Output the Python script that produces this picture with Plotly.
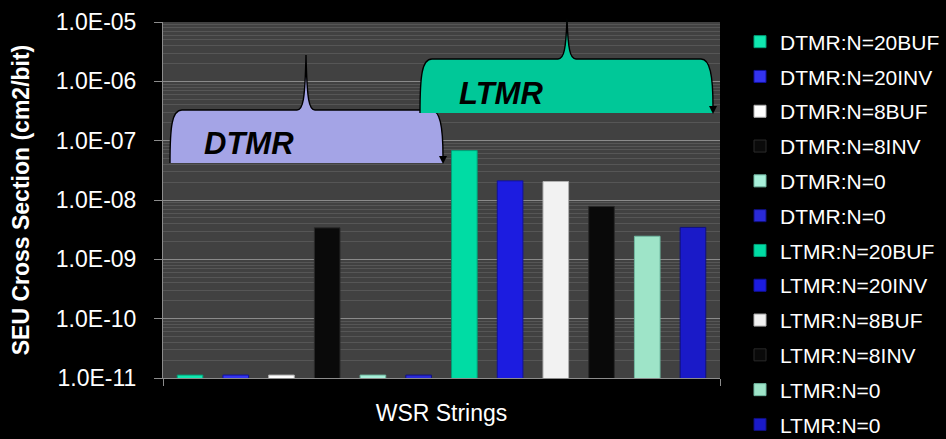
import plotly.graph_objects as go

# ---- data -------------------------------------------------------------
category = ["WSR Strings"]
series_names = [
    "DTMR:N=20BUF", "DTMR:N=20INV", "DTMR:N=8BUF", "DTMR:N=8INV",
    "DTMR:N=0", "DTMR:N=0",
    "LTMR:N=20BUF", "LTMR:N=20INV", "LTMR:N=8BUF", "LTMR:N=8INV",
    "LTMR:N=0", "LTMR:N=0",
]
# SEU cross section, cm2/bit (no-upset runs sit on the 1e-11 floor)
cross_section = [
    1.12e-11, 1.12e-11, 1.12e-11, 3.4e-9,
    1.12e-11, 1.12e-11,
    6.8e-8, 2.1e-8, 2.05e-8, 7.8e-9,
    2.45e-9, 3.45e-9,
]
series_colors = [
    "#10E8B0", "#3434F0", "#FFFFFF", "#0A0A0A",
    "#A8F0DA", "#2A2AD8",
    "#00DCA4", "#1C1CE0", "#F2F2F2", "#090909",
    "#9EE4C8", "#1A1AC8",
]
edge_colors = [
    "#00A078", "#1010A0", "#B0B0B0", "#2A2A2A",
    "#70B8A0", "#101080",
    "#00A078", "#1010A0", "#B0B0B0", "#2A2A2A",
    "#70B8A0", "#101080",
]
tick_vals = [1e-11, 1e-10, 1e-9, 1e-8, 1e-7, 1e-6, 1e-5]
tick_text = ["1.0E-11", "1.0E-10", "1.0E-09", "1.0E-08",
             "1.0E-07", "1.0E-06", "1.0E-05"]

# ---- figure geometry ---------------------------------------------------
W, H = 946, 439
ML, MR, MT, MB = 163, 226, 22, 61
PW, PH = W - ML - MR, H - MT - MB
FONT = "Arial, 'Liberation Sans', sans-serif"


def fx(px):
    return (px - ML) / PW


def fy(py):
    return (H - MB - py) / PH


def brace(xl, xr, ytop, ybot, xs, ytip):
    """Curly-brace outline (open) and its filled body, in paper coords."""
    pts = [
        ("M", [(xl, ybot)]),
        ("C", [(xl, ybot - (ybot - ytop) * 0.7), (xl + 2, ytop), (xl + 12, ytop)]),
        ("L", [(xs - 9, ytop)]),
        ("C", [(xs - 3, ytop), (xs - 1, ytop - 10), (xs, ytip)]),
        ("C", [(xs + 1, ytop - 10), (xs + 3, ytop), (xs + 9, ytop)]),
        ("L", [(xr - 12, ytop)]),
        ("C", [(xr - 3, ytop), (xr, ytop + (ybot - ytop) * 0.3), (xr, ybot - 6)]),
    ]

    def fmt(seq):
        out = []
        for cmd, ps in seq:
            out.append(cmd + " ".join(f"{fx(a):.5f},{fy(b):.5f}" for a, b in ps))
        return " ".join(out)

    outline = fmt(pts)
    body = outline + f" L{fx(xr):.5f},{fy(ybot):.5f} Z"
    arrow = (f"M{fx(xr - 4):.5f},{fy(ybot - 7):.5f} "
             f"L{fx(xr + 4):.5f},{fy(ybot - 7):.5f} "
             f"L{fx(xr):.5f},{fy(ybot + 1):.5f} Z")
    return outline, body, arrow


fig = go.Figure()
for i, (name, val) in enumerate(zip(series_names, cross_section)):
    fig.add_trace(go.Bar(
        x=category, y=[val], name=name,
        legendgroup=f"s{i}",
        marker=dict(color=series_colors[i],
                    line=dict(color=edge_colors[i], width=1)),
        hoverinfo="name+y",
    ))

shapes = []
annotations = []
for (xl, xr, ytop, ybot, xs, ytip, fill, label, lx, ly) in [
    (170, 443, 110, 163, 306, 55, "#A4A4E6", "DTMR", 249, 143),
    (420, 713, 59, 113, 567, 18, "#00C898", "LTMR", 501, 93),
]:
    outline, body, arrow = brace(xl, xr, ytop, ybot, xs, ytip)
    shapes.append(dict(type="path", path=body, xref="paper", yref="paper",
                       fillcolor=fill, line=dict(width=0)))
    shapes.append(dict(type="path", path=outline, xref="paper", yref="paper",
                       line=dict(color="black", width=1.4)))
    shapes.append(dict(type="path", path=arrow, xref="paper", yref="paper",
                       fillcolor="black", line=dict(width=0)))
    annotations.append(dict(text=f"<b><i>{label}</i></b>", x=fx(lx), y=fy(ly),
                            xref="paper", yref="paper", showarrow=False,
                            xanchor="center", yanchor="middle",
                            font=dict(family=FONT, size=31, color="black")))

minor_vals = [m * 10.0 ** e for e in range(-11, -5) for m in range(2, 10)]

fig.update_layout(
    width=W, height=H,
    margin=dict(l=ML, r=MR, t=MT, b=MB, pad=0, autoexpand=False),
    paper_bgcolor="black",
    plot_bgcolor="#414141",
    barmode="group",
    bargap=0.015,
    bargroupgap=0.44,
    font=dict(family=FONT, color="white", size=21),
    showlegend=True,
    legend=dict(
        x=fx(740), xanchor="left", y=fy(21.5), yanchor="top",
        font=dict(family=FONT, size=21, color="white"),
        bgcolor="rgba(0,0,0,0)", tracegroupgap=4.5,
        maxheight=600,
        itemclick=False, itemdoubleclick=False,
    ),
    shapes=shapes,
    annotations=annotations,
    xaxis=dict(
        type="category", showticklabels=False, showgrid=False,
        ticks="outside", tickson="boundaries", ticklen=7,
        tickcolor="#8C8C8C", showline=True, linecolor="#8C8C8C", linewidth=1,
        title=dict(text="WSR Strings", standoff=26,
                   font=dict(family=FONT, size=23, color="white")),
        fixedrange=True,
    ),
    yaxis=dict(
        type="log", range=[-11, -5],
        tickmode="array", tickvals=tick_vals, ticktext=tick_text,
        ticks="outside", ticklen=8, tickcolor="#8C8C8C",
        ticklabelstandoff=13,
        tickfont=dict(family=FONT, size=23, color="white"),
        showgrid=True, gridcolor="#8A8A8A", gridwidth=1,
        minor=dict(tickmode="array", tickvals=minor_vals, showgrid=True,
                   gridcolor="#565656", gridwidth=1, ticks=""),
        showline=True, linecolor="#8C8C8C", linewidth=1,
        zeroline=False,
        title=dict(text="<b>SEU Cross Section (cm2/bit)</b>", standoff=19,
                   font=dict(family=FONT, size=23, color="white")),
        fixedrange=True,
    ),
)

fig.write_html("out.html", config={"displayModeBar": False})
